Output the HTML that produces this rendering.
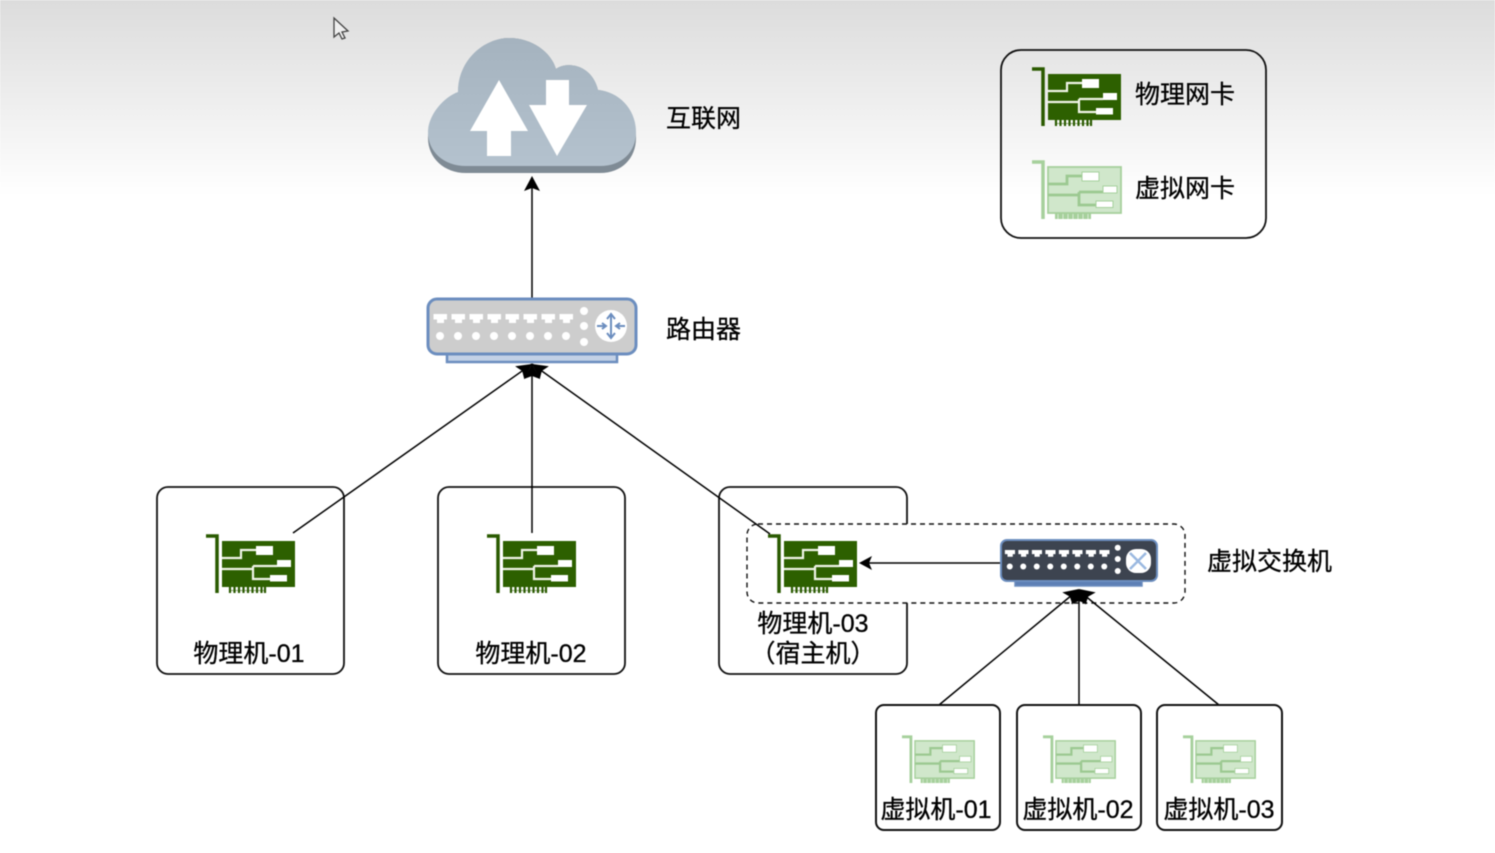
<!DOCTYPE html>
<html lang="zh">
<head>
<meta charset="utf-8">
<style>
html,body{margin:0;padding:0;background:#fff;width:1495px;height:853px;overflow:hidden}
svg{display:block;filter:blur(0.55px)}
text{font-family:"Liberation Sans","Noto Sans CJK SC",sans-serif;font-size:25px;fill:#000;stroke:#000;stroke-width:.3px;text-anchor:middle}
.l{text-anchor:start}
</style>
</head>
<body>
<svg width="1495" height="853" viewBox="0 0 1495 853" xmlns="http://www.w3.org/2000/svg">
<defs>
<linearGradient id="bg" x1="0" y1="0" x2="0" y2="1">
<stop offset="0" stop-color="#dcdcdc"/><stop offset="1" stop-color="#ffffff"/>
</linearGradient>
<linearGradient id="cl" x1="0" y1="0" x2="0" y2="1">
<stop offset="0" stop-color="#a5b3bf"/><stop offset="1" stop-color="#b4c2ce"/>
</linearGradient>
<symbol id="nicD" viewBox="0 0 90 60" overflow="visible">
<path d="M0 2H11V59" fill="none" stroke="#2a5a00" stroke-width="3.500"/>
<rect x="23" y="53" width="36" height="6" fill="#fff"/>
<path d="M24 53V59M28.500 53V59M33 53V59M37.500 53V59M42 53V59M46.500 53V59M51 53V59M55.500 53V59M59 53V59" stroke="#2a5a00" stroke-width="2.200"/>
<path d="M23 56.500H59" stroke="#2a5a00" stroke-width="1" opacity=".5"/>
<rect x="16" y="7" width="73" height="46" fill="#2d6000"/>
<path d="M16 24H35V16H50M16 35H47M47 32V45H64M47 32H71" fill="none" stroke="#f0f5e8" stroke-width="2.200"/>
<rect x="50" y="12" width="17" height="9" fill="#fff"/>
<rect x="71" y="26" width="14" height="7" fill="#fff"/>
<rect x="64" y="41" width="17" height="6.500" fill="#fff"/>
</symbol>
<symbol id="nicL" viewBox="0 0 90 60" overflow="visible">
<path d="M0 2H11V59" fill="none" stroke="#a6d09c" stroke-width="3.500"/>
<rect x="23" y="53" width="36" height="6" fill="#a6d09c"/>
<path d="M26 54V59M31 54V59M36 54V59M41 54V59M46 54V59M51 54V59M56 54V59" stroke="#d8ecd4" stroke-width="1"/>
<rect x="16" y="7" width="73" height="46" fill="#d0e7cb" stroke="#a6d09c" stroke-width="1.800"/>
<path d="M16 24H35V16H50M16 35H47M47 32V45H64M47 32H71" fill="none" stroke="#9cc991" stroke-width="2.800"/>
<rect x="50" y="12" width="17" height="9" fill="#fff" stroke="#a6d09c"/>
<rect x="71" y="26" width="14" height="7" fill="#fff" stroke="#a6d09c"/>
<rect x="64" y="41" width="17" height="6.500" fill="#fff" stroke="#a6d09c"/>
</symbol>
<g id="ports" fill="#fff">
<path id="p" d="M6.500 314H20V319.500H17V323H10V319.500H6.500Z"/>
<use href="#p" x="18"/><use href="#p" x="36"/><use href="#p" x="54"/><use href="#p" x="72"/><use href="#p" x="90"/><use href="#p" x="108"/><use href="#p" x="126"/>
<circle cx="13" cy="336" r="4"/><circle cx="31" cy="336" r="4"/><circle cx="49" cy="336" r="4"/><circle cx="67" cy="336" r="4"/><circle cx="85" cy="336" r="4"/><circle cx="103" cy="336" r="4"/><circle cx="121" cy="336" r="4"/><circle cx="139" cy="336" r="4"/>
<circle cx="157" cy="311" r="4"/><circle cx="157" cy="326" r="4"/><circle cx="157" cy="342" r="4"/>
</g>
</defs>

<rect width="1495" height="853" fill="#fff"/>
<rect width="1495" height="195" fill="url(#bg)"/>

<!-- cursor -->
<path d="M334 18V37L339 33L342 39L345 38L342 32L348 31Z" fill="#efefef" stroke="#444" stroke-width="1.300"/>

<!-- cloud -->
<path d="M428 138C428 119 444 101 458 96C458 62 484 38 509 38C532 38 551 52 556 69C566 61 592 64 598 90C620 92 636 113 636 138C636 158 622 173 600 173H466C444 173 428 158 428 138Z" fill="#7f8b95"/>
<path d="M428 132C428 115 444 97 458 92C458 60 484 38 509 38C532 38 551 52 556 69C566 61 592 64 598 90C620 92 636 110 636 132C636 152 622 166 600 166H466C444 166 428 152 428 132Z" fill="url(#cl)"/>
<path d="M499 80L528 131H511V156H487V131H470Z" fill="#fff"/>
<path d="M546 80H569V105H587L557 156L529 105H546Z" fill="#fff"/>
<text class="l" x="666" y="127">互联网</text>

<!-- legend -->
<rect x="1001" y="50" width="265" height="188" rx="20" fill="none" stroke="#111" stroke-width="1.800"/>
<use href="#nicD" x="1032" y="67" width="90" height="60"/>
<use href="#nicL" x="1032" y="160" width="90" height="60"/>
<text class="l" x="1135" y="103">物理网卡</text>
<text class="l" x="1135" y="197">虚拟网卡</text>

<!-- physical hosts -->
<rect x="157" y="487" width="187" height="187" rx="11" fill="#fff" stroke="#111" stroke-width="1.800"/>
<rect x="438" y="487" width="187" height="187" rx="11" fill="#fff" stroke="#111" stroke-width="1.800"/>
<rect x="719" y="487" width="188" height="187" rx="11" fill="#fff" stroke="#111" stroke-width="1.800"/>
<use href="#nicD" x="206" y="534" width="90" height="60"/>
<use href="#nicD" x="487" y="534" width="90" height="60"/>
<text x="249" y="662">物理机-01</text>
<text x="531" y="662">物理机-02</text>

<!-- virtual switch group -->
<rect x="747" y="524" width="438" height="79" rx="11" fill="#fff" stroke="#111" stroke-width="1.400" stroke-dasharray="5 4"/>
<use href="#nicD" x="768" y="534" width="90" height="60"/>
<text x="813" y="632">物理机-03</text>
<text x="813" y="662">（宿主机）</text>
<text class="l" x="1207" y="570">虚拟交换机</text>

<!-- connectors -->
<g fill="none" stroke="#000" stroke-width="1.500">
<path d="M532 298V186"/>
<path d="M293 533L532 364M532 533V364M770 534L532 364"/>
<path d="M1000 563H866"/>
<path d="M939 705L1078 590M1079 705V590M1219 705L1078 590"/>
</g>
<g fill="#000">
<path d="M532 176L540 191L532 188L524 191Z"/>
<path d="M859 563L872 556L869 563L872 570Z"/>
<path d="M532 364L524.300 379.200L522.200 371L515.100 366.200Z"/>
<path d="M532 364L539.700 379.200L541.800 371L548.900 366.200Z"/>
<path d="M532 364L524 379L532 376L540 379Z"/>
<path d="M1079 589L1072.500 604.800L1069.800 596.600L1062.300 592.400Z"/>
<path d="M1079 589L1085.500 604.800L1088.200 596.600L1095.700 592.400Z"/>
<path d="M1079 589L1071 604L1079 601L1087 604Z"/>
</g>

<!-- router -->
<rect x="447" y="352" width="170" height="10" fill="#c3d1e6" stroke="#6c8ebf" stroke-width="2.500"/>
<rect x="428" y="299" width="208" height="55" rx="9" fill="#cdcdcd" stroke="#6c8ebf" stroke-width="3"/>
<g transform="translate(427 0)"><use href="#ports"/></g>
<circle cx="611" cy="326" r="16" fill="#fff"/>
<path d="M611 315V337M607 319L611 314L615 319M607 333L611 338L615 333M597 326H605M602 323L606 326L602 329M625 326H617M620 323L616 326L620 329" fill="none" stroke="#6c8ebf" stroke-width="2"/>
<text class="l" x="666" y="338">路由器</text>

<!-- virtual switch -->
<rect x="1015" y="578" width="127" height="8" fill="#5d7fb5" stroke="#6c8ebf" stroke-width="1.500"/>
<rect x="1001" y="540" width="156" height="41" rx="6" fill="#3d4450" stroke="#6c8ebf" stroke-width="2"/>
<g transform="translate(1000 314.500) scale(.75)"><use href="#ports"/></g>
<rect x="1126" y="549" width="25" height="24" rx="10" fill="#fff"/>
<path d="M1130 553L1146 569M1146 553L1130 569" stroke="#9ab8e0" stroke-width="2.500"/>

<!-- virtual machines -->
<rect x="876" y="705" width="124" height="125" rx="8" fill="#fff" stroke="#111" stroke-width="2"/>
<rect x="1017" y="705" width="124" height="125" rx="8" fill="#fff" stroke="#111" stroke-width="2"/>
<rect x="1157" y="705" width="125" height="125" rx="8" fill="#fff" stroke="#111" stroke-width="2"/>
<use href="#nicL" x="902" y="735" width="73" height="49"/>
<use href="#nicL" x="1043" y="735" width="73" height="49"/>
<use href="#nicL" x="1183" y="735" width="73" height="49"/>
<text x="936" y="818">虚拟机-01</text>
<text x="1078" y="818">虚拟机-02</text>
<text x="1219" y="818">虚拟机-03</text>
</svg>
</body>
</html>
